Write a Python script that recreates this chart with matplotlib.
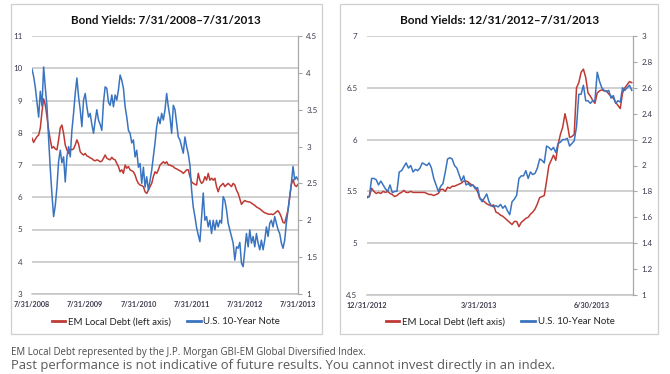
import matplotlib
matplotlib.use('Agg')
import matplotlib.pyplot as plt
from matplotlib.patches import Rectangle
from matplotlib.lines import Line2D
import pandas as pd

plt.rcParams['font.family'] = ['Lato', 'DejaVu Sans']

RED = '#be3a34'
BLUE = '#3a74c0'
GRID = '#c4c4c4'
TICK = '#3a3a4e'

# --- 5 year panel, 7/31/2008 - 7/31/2013 -------------------------------
em_5y = [
    7.83, 7.7, 7.8, 7.88, 7.93, 8.15, 8.65, 9.05, 8.86, 8.5,
    8.09, 7.78, 7.52, 7.57, 7.5, 7.47, 7.78, 8.15, 8.24, 7.98,
    7.62, 7.47, 7.36, 7.5, 7.47, 7.5, 7.62, 7.78, 7.65, 7.41,
    7.35, 7.31, 7.36, 7.28, 7.26, 7.22, 7.2, 7.15, 7.13, 7.16,
    7.14, 7.1, 7.12, 7.21, 7.31, 7.21, 7.18, 7.16, 7.24, 7.18,
    7.16, 7.05, 6.95, 6.79, 6.85, 6.74, 7.0, 6.9, 6.95, 6.85,
    6.82, 6.79, 6.69, 6.53, 6.43, 6.38, 6.36, 6.33, 6.17, 6.12,
    6.22, 6.33, 6.43, 6.64, 6.79, 6.74, 6.85, 7.0, 7.05, 7.1,
    7.05, 7.1, 7.0, 7.0, 6.97, 6.95, 6.9, 6.88, 6.85, 6.82,
    6.79, 6.74, 6.79, 6.85, 6.85, 6.64, 6.48, 6.43, 6.4, 6.38,
    6.74, 6.53, 6.43, 6.48, 6.64, 6.53, 6.74, 6.53, 6.59, 6.53,
    6.59, 6.33, 6.17, 6.33, 6.38, 6.43, 6.33, 6.38, 6.43, 6.38,
    6.33, 6.43, 6.38, 6.22, 6.12, 5.95, 5.78, 5.85, 5.9, 5.87,
    5.86, 5.85, 5.82, 5.78, 5.75, 5.7, 5.67, 5.64, 5.6, 5.55,
    5.52, 5.5, 5.48, 5.47, 5.48, 5.46, 5.5, 5.55, 5.58, 5.5,
    5.38, 5.22, 5.2, 5.4, 5.6, 6.0, 6.4, 6.55, 6.38, 6.33,
    6.4,
]
ust_5y = [
    4.05, 3.95, 3.8, 3.6, 3.4, 3.75, 3.55, 4.08, 3.8, 3.55,
    3.1, 2.7, 2.35, 2.05, 2.2, 2.45, 2.8, 2.95, 2.78, 2.86,
    2.52, 2.86, 3.0, 2.86, 3.22, 3.45, 3.72, 3.93, 3.68, 3.5,
    3.27, 3.63, 3.72, 3.54, 3.4, 3.45, 3.3, 3.18, 3.35, 3.5,
    3.36, 3.3, 3.22, 3.6, 3.81, 3.79, 3.6, 3.56, 3.7, 3.54,
    3.7, 3.63, 3.77, 3.97, 3.9, 3.79, 3.54, 3.4, 3.22, 3.18,
    3.05, 3.09, 2.86, 2.95, 2.72, 2.77, 2.5, 2.72, 2.45, 2.59,
    2.41, 2.54, 2.68, 2.86, 3.05, 3.27, 3.4, 3.31, 3.45, 3.36,
    3.5, 3.72, 3.54, 3.4, 3.18, 3.56, 3.5, 3.31, 3.13, 3.09,
    3.0, 2.91, 3.13, 3.0, 2.9, 2.75, 2.41, 2.18, 2.05, 1.9,
    1.8, 1.71, 2.05, 2.37, 2.0, 2.05, 1.91, 2.0, 1.82, 2.0,
    1.87, 2.0, 1.91, 2.0, 1.96, 2.32, 2.27, 2.14, 1.96, 1.87,
    1.78, 1.69, 1.46, 1.64, 1.62, 1.7, 1.42, 1.37, 1.6, 1.82,
    1.64, 1.87, 1.69, 1.78, 1.64, 1.82, 1.69, 1.6, 1.73, 1.6,
    1.73, 1.91, 1.78, 1.96, 2.0, 1.91, 2.05, 1.96, 1.87, 1.82,
    1.69, 1.62, 1.73, 1.96, 2.14, 2.32, 2.5, 2.73, 2.55, 2.59,
    2.55,
]
ticks_5y = ['2008-07-31', '2009-07-31', '2010-07-31', '2011-07-31', '2012-07-31', '2013-07-31']
labels_5y = ['7/31/2008', '7/31/2009', '7/31/2010', '7/31/2011', '7/31/2012', '7/31/2013']

# --- YTD panel, 12/31/2012 - 7/31/2013 ---------------------------------
em_ytd = [
    5.45, 5.45, 5.53, 5.5, 5.48, 5.49, 5.48, 5.5, 5.49, 5.5,
    5.48, 5.47, 5.45, 5.46, 5.48, 5.49, 5.51, 5.49, 5.49, 5.5,
    5.49, 5.49, 5.49, 5.49, 5.49, 5.49, 5.48, 5.47, 5.47, 5.46,
    5.47, 5.48, 5.52, 5.52, 5.5, 5.54, 5.53, 5.55, 5.55, 5.56,
    5.57, 5.58, 5.6, 5.6, 5.59, 5.57, 5.56, 5.54, 5.5, 5.43,
    5.42, 5.4, 5.38, 5.37, 5.36, 5.37, 5.3, 5.29, 5.27, 5.26,
    5.24, 5.22, 5.2, 5.18, 5.21, 5.21, 5.16, 5.2, 5.22, 5.24,
    5.25, 5.28, 5.3, 5.33, 5.38, 5.44, 5.45, 5.46, 5.6, 5.75,
    5.8, 5.85, 5.8, 5.95, 6.05, 6.12, 6.25, 6.15, 6.02, 6.03,
    6.05, 6.5, 6.55, 6.65, 6.68, 6.6, 6.45, 6.42, 6.38, 6.35,
    6.45, 6.47, 6.48, 6.47, 6.47, 6.44, 6.42, 6.4, 6.36, 6.33,
    6.3, 6.45, 6.5, 6.53, 6.56, 6.55,
]
ust_ytd = [
    1.75, 1.76, 1.9, 1.9, 1.89, 1.85, 1.88, 1.85, 1.82, 1.8,
    1.85, 1.79, 1.8, 1.8, 1.95, 1.96, 1.99, 2.02, 1.98, 2.0,
    1.95, 1.97, 1.96, 1.98, 2.02, 2.01, 2.0, 2.02, 1.98, 1.9,
    1.85, 1.8, 1.84, 1.86, 1.95, 2.05, 2.06, 2.05, 2.0, 1.98,
    1.93, 1.88, 1.92, 1.85, 1.86, 1.84, 1.85, 1.82, 1.83, 1.75,
    1.72, 1.75, 1.78, 1.72, 1.69, 1.68, 1.69, 1.68, 1.7, 1.67,
    1.69, 1.65, 1.62, 1.72, 1.74, 1.77, 1.9, 1.92, 1.92, 1.96,
    1.9, 1.95, 1.93, 1.94, 1.98, 2.05, 2.04, 2.02, 2.15, 2.14,
    2.12, 2.14, 2.1, 2.17, 2.18, 2.2, 2.2, 2.21, 2.15, 2.17,
    2.19, 2.3, 2.55, 2.55, 2.62, 2.5, 2.5, 2.48, 2.5, 2.5,
    2.72, 2.65, 2.6, 2.58, 2.57, 2.58, 2.52, 2.54, 2.48, 2.5,
    2.49, 2.6, 2.58, 2.6, 2.62, 2.58,
]
ticks_ytd = ['2012-12-31', '2013-03-31', '2013-06-30']
labels_ytd = ['12/31/2012', '3/31/2013', '6/30/2013']

legend_labels = ['EM Local Debt (left axis)', 'U.S. 10-Year Note']

dates_5y = pd.date_range('2008-07-31', '2013-07-31', periods=len(em_5y))
dates_ytd = pd.date_range('2012-12-31', '2013-08-01', periods=len(em_ytd))

W, H = 670, 374
fig = plt.figure(figsize=(W / 100, H / 100), dpi=100)
fig.patch.set_facecolor('white')


def px_box(x0, y0, x1, y1):
    return [x0 / W, 1 - y1 / H, (x1 - x0) / W, (y1 - y0) / H]


fit = []  # (text, target width px)


def panel(box, area, dates, em, ust, xlim, xticks, xlabels,
          lticks, rticks, title, title_w, cx):
    b = px_box(*box)
    fig.patches.append(Rectangle((b[0], b[1]), b[2], b[3], transform=fig.transFigure,
                                 fill=False, edgecolor='#cfcfcf', linewidth=0.9))
    ax = fig.add_axes(px_box(*area))
    ax2 = ax.twinx()
    ax.plot(dates, em, color=RED, lw=1.1, zorder=3)
    ax2.plot(dates, ust, color=BLUE, lw=1.1, zorder=3)

    ax.set_xlim(pd.Timestamp(xlim[0]), pd.Timestamp(xlim[1]))
    ax.set_ylim(lticks[0], lticks[-1])
    ax2.set_ylim(rticks[0], rticks[-1])
    ax.set_yticks(lticks)
    ax.set_yticklabels([f'{v:g}' for v in lticks])
    ax2.set_yticks(rticks)
    ax2.set_yticklabels([f'{v:g}' for v in rticks])
    ax.set_xticks(pd.to_datetime(xticks))
    ax.set_xticklabels(xlabels, fontweight='bold')

    ax.grid(axis='y', color=GRID, lw=1.1)
    ax.set_axisbelow(True)
    for s in ['top', 'left', 'right']:
        ax.spines[s].set_visible(False)
    ax.spines['bottom'].set_color(GRID)
    ax.spines['bottom'].set_linewidth(1.1)
    for s in ['top', 'left', 'bottom']:
        ax2.spines[s].set_visible(False)
    ax2.spines['right'].set_color('#a8a8a8')
    ax2.spines['right'].set_linewidth(0.9)

    ax.tick_params(axis='y', length=0, pad=7, labelsize=5.8, labelcolor=TICK)
    ax.tick_params(axis='x', length=0, pad=5, labelsize=5.2, labelcolor=TICK)
    ax2.tick_params(axis='y', length=3, width=0.8, color='#a8a8a8', pad=3,
                    labelsize=5.8, labelcolor=TICK)

    t = fig.text(cx / W, 1 - 20 / H, title, ha='center', va='center',
                 fontsize=10, fontweight='bold', color='#111111')
    fit.append((t, title_w))

    handles = [Line2D([], [], color=RED, lw=2.0), Line2D([], [], color=BLUE, lw=2.0)]
    fig.legend(handles, legend_labels, loc='center',
               bbox_to_anchor=(cx / W, 1 - 322 / H), ncol=2, borderpad=0,
               frameon=False, fontsize=6.9, handlelength=1.4, handletextpad=0.3,
               columnspacing=1.7, labelcolor='#222222')


panel((11, 4, 322, 334), (32, 36, 298, 294), dates_5y, em_5y, ust_5y,
      ('2008-07-31', '2013-07-31'), ticks_5y, labels_5y,
      [3, 4, 5, 6, 7, 8, 9, 10, 11], [1, 1.5, 2, 2.5, 3, 3.5, 4, 4.5],
      'Bond Yields: 7/31/2008\u20137/31/2013', 190, 166)
panel((340, 4, 658, 334), (367, 36, 633, 295), dates_ytd, em_ytd, ust_ytd,
      ('2012-12-31', '2013-08-02'), ticks_ytd, labels_ytd,
      [4.5, 5, 5.5, 6, 6.5, 7], [1, 1.2, 1.4, 1.6, 1.8, 2, 2.2, 2.4, 2.6, 2.8, 3],
      'Bond Yields: 12/31/2012\u20137/31/2013', 199, 500)

f1 = fig.text(11 / W, 1 - 352 / H,
              'EM Local Debt represented by the J.P. Morgan GBI-EM Global Diversified Index.',
              ha='left', va='center', fontsize=6, color='#4a4a4a', family=['Open Sans', 'DejaVu Sans'])
f2 = fig.text(11 / W, 1 - 366 / H,
              'Past performance is not indicative of future results. You cannot invest directly in an index.',
              ha='left', va='center', fontsize=8, color='#5a5a5a', family=['Open Sans', 'DejaVu Sans'])
fit.append((f1, 357))
fit.append((f2, 546))

# match the text widths of the original
fig.canvas.draw()
r = fig.canvas.get_renderer()
for t, target in fit:
    w = t.get_window_extent(r).width
    t.set_fontsize(t.get_fontsize() * target / w)

fig.savefig('out.png', dpi=100, facecolor='white')
